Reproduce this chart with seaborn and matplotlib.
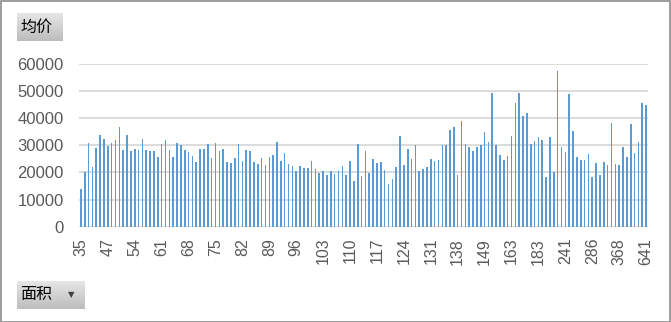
import numpy as np
import pandas as pd
import seaborn as sns
import matplotlib
matplotlib.use("Agg")
import matplotlib.pyplot as plt
from matplotlib.colors import LinearSegmentedColormap
from matplotlib.patches import Rectangle

# ---- data ----
areas = [35, 37, 39, 41, 42, 44, 45, 47,
         48, 49, 50, 51, 52, 53, 54, 55, 56, 57, 58, 59, 60, 61, 62, 63, 64, 65, 66, 67,
         68, 69, 70, 71, 72, 73, 74, 75, 76, 77, 78, 79, 80, 81, 82, 83, 84, 85, 86, 87,
         88, 89, 90, 91, 92, 93, 94, 95, 96, 97, 98, 99, 100, 101, 102, 103, 104, 105,
         106, 107, 108, 109, 110, 111, 112, 113, 114, 115, 116, 117, 118, 119, 120, 121,
         122, 123, 124, 125, 126, 127, 128, 129, 130, 131, 132, 133, 134, 135, 136, 137, 138,
         139, 141, 142, 144, 145, 147, 149,
         150, 152, 154, 156, 158, 160, 163,
         165, 168, 170, 173, 176, 180, 183,
         190, 198, 205, 212, 220, 230, 241,
         245, 250, 256, 263, 270, 278, 286,
         295, 305, 315, 328, 340, 355, 368,
         380, 400, 420, 450, 500, 560, 641]

avg_price = [14000, 20300, 31000, 22100, 29200, 34000, 32500, 29900, 31000, 32100,
             36900, 28400, 34000, 28000, 28800, 28400, 32500, 28400, 28000, 28000,
             25800, 30600, 32100, 28400, 25800, 31000, 30300, 28400, 27700, 26200,
             24000, 28800, 28800, 30600, 25400, 31000, 28000, 28800, 24000, 23600,
             25400, 30600, 24300, 28400, 28000, 24000, 23200, 25400, 22900, 25800,
             26600, 31400, 24300, 27300, 23200, 22500, 20600, 22500, 21700, 21700,
             24300, 21400, 19900, 20600, 19100, 20600, 19500, 20600, 22500, 19100,
             24300, 16900, 30600, 18800, 28000, 19900, 25100, 23600, 24000, 21000,
             15800, 17700, 22100, 33600, 22900, 28800, 25100, 30300, 20600, 21400,
             22100, 25100, 24300, 24700, 30300, 30300, 35800, 36600, 19100, 38800,
             30600, 29500, 28000, 29500, 30300, 35100, 31400, 49200, 30300, 26600,
             24700, 26200, 33600, 45800, 49200, 41000, 42100, 30600, 31700, 32900,
             32100, 18400, 33200, 20300, 57300, 29500, 27700, 48800, 35400, 25800,
             24700, 24700, 26900, 18400, 23600, 19100, 24000, 22900, 38400, 23200,
             22900, 29500, 25800, 37700, 27300, 31400, 45500, 44700]

y_ticks = [0, 10000, 20000, 30000, 40000, 50000, 60000]
label_step = 7

df = pd.DataFrame({"面积": [str(a) for a in areas], "均价": avg_price})

sns.set_theme(style="white")
plt.rcParams["font.family"] = ["Liberation Sans", "Noto Sans CJK SC", "DejaVu Sans"]

W, H = 671, 322
fig = plt.figure(figsize=(W / 100, H / 100), dpi=100)
ax = fig.add_axes([79 / W, 1 - 226.7 / H, (648 - 79) / W, (226.7 - 64) / H])

sns.barplot(data=df, x="面积", y="均价", color="#5B9BD5", saturation=1,
            width=0.42, linewidth=0, ax=ax, order=df["面积"].tolist())

ax.set_xlim(-0.5, len(areas) - 0.5)
ax.set_ylim(0, 60000)
ax.set_yticks(y_ticks)
ax.set_yticklabels([str(v) for v in y_ticks])
pos = list(range(0, len(areas), label_step))
ax.set_xticks(pos)
ax.set_xticklabels([df["面积"][p] for p in pos], rotation=90)
ax.tick_params(axis="y", length=0, pad=11, labelsize=12, labelcolor="#595959")
ax.tick_params(axis="x", length=0, pad=8, labelsize=11.5, labelcolor="#595959")
ax.set_xlabel("")
ax.set_ylabel("")
for s in ax.spines.values():
    s.set_visible(False)
ax.grid(False)
for v in y_ticks:
    ax.axhline(v, color="#D9D9D9", linewidth=1.3, zorder=0)
ax.set_axisbelow(True)

# gradient buttons
cmap = LinearSegmentedColormap.from_list("btn", ["#E6E6E6", "#BDBDBD"])
grad = np.linspace(0, 1, 64).reshape(-1, 1)

def button(x0, y0, x1, y1, text, tx, arrow=None):
    bax = fig.add_axes([x0 / W, 1 - y1 / H, (x1 - x0) / W, (y1 - y0) / H])
    bax.imshow(grad, aspect="auto", cmap=cmap, extent=[0, 1, 0, 1], origin="upper")
    bax.set_xlim(0, 1)
    bax.set_ylim(0, 1)
    bax.axis("off")
    fig.text(tx / W, 1 - ((y0 + y1) / 2) / H, text, fontsize=11.5, color="#000000",
             ha="left", va="center", family=["Noto Sans CJK SC", "DejaVu Sans"])
    if arrow is not None:
        fig.text(arrow / W, 1 - ((y0 + y1) / 2) / H, "▼", fontsize=6, color="#404040",
                 ha="center", va="center", family=["DejaVu Sans"])

button(17, 13, 63, 41, "均价", 20)
button(17, 281, 85, 309, "面积", 20, arrow=71)

# outer border
fig.patches.append(Rectangle((0.5 / W, 0.5 / H), 1 - 1.5 / W, 1 - 1.5 / H,
                             transform=fig.transFigure, fill=False,
                             edgecolor="#8C8C8C", linewidth=1.2))

fig.savefig("out.png", dpi=100)
